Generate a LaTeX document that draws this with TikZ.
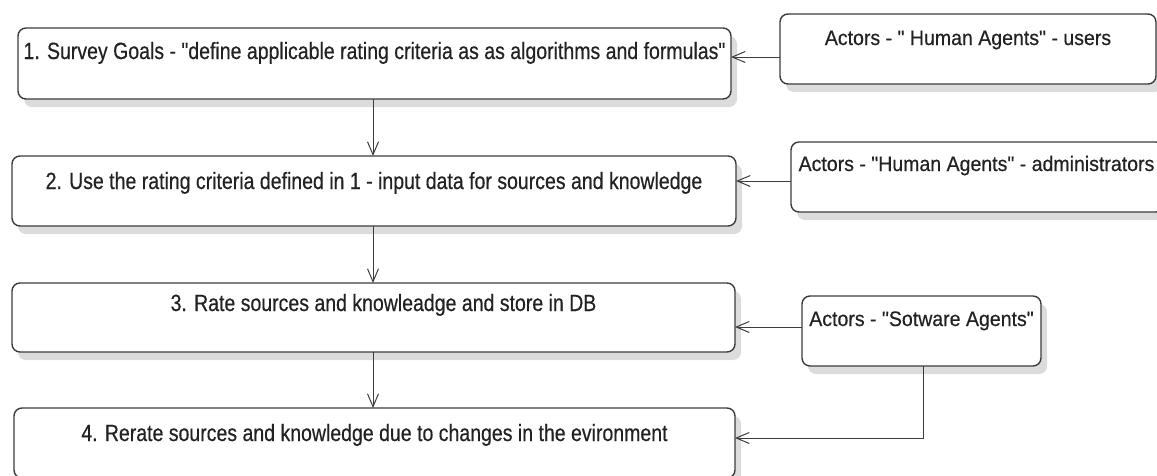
\documentclass[tikz,border=0pt]{standalone}
\usepackage{fontspec}
\setmainfont{Liberation Sans}
\newfontfamily\mainf{Liberation Sans}[FakeStretch=0.83,FakeBold=0.4]
\newfontfamily\actf{Liberation Sans}[FakeStretch=0.93,FakeBold=0.4]
\usetikzlibrary{arrows.meta}
\definecolor{edge}{HTML}{3C3C3C}
\definecolor{ink}{HTML}{222222}
\definecolor{shade}{HTML}{DCDCDC}
\begin{document}
\begin{tikzpicture}[x=1pt,y=-1pt,
  box/.style={draw=edge, line width=1.4pt, rounded corners=8pt, fill=white,
    inner sep=0pt, outer sep=0pt},
  shadowbox/.style={fill=shade, draw=none, rounded corners=8pt, inner sep=0pt, outer sep=0pt},
  mtext/.style={anchor=base, text=ink, font=\mainf\fontsize{23.5}{27}\selectfont, inner sep=0pt},
  atext/.style={anchor=base, text=ink, font=\actf\fontsize{21}{25}\selectfont, inner sep=0pt},
  conn/.style={draw=edge, line width=1pt, -{Straight Barb[length=13pt,width=11pt,line width=1pt]}}]
\useasboundingbox (0,0) rectangle (1157,475);
% shadows (drawn first, offset right and down)
\node[shadowbox, minimum width=713pt, minimum height=71pt] (h1) at (380.5,71.5) {};
\node[shadowbox, minimum width=724pt, minimum height=70pt] (h2) at (380,199) {};
\node[shadowbox, minimum width=723pt, minimum height=69pt] (h3) at (379.5,325.5) {};
\node[shadowbox, minimum width=721pt, minimum height=70pt] (h4) at (380.5,451) {};
\node[shadowbox, minimum width=376pt, minimum height=70pt] (g1) at (974,57) {};
\node[shadowbox, minimum width=373pt, minimum height=70pt] (g2) at (983.5,185) {};
\node[shadowbox, minimum width=239pt, minimum height=70pt] (g3) at (927.5,339) {};
% main boxes
\node[box, minimum width=713pt, minimum height=71pt] (b1) at (374.5,63.5) {};
\node[box, minimum width=724pt, minimum height=70pt] (b2) at (374,191) {};
\node[box, minimum width=723pt, minimum height=69pt] (b3) at (373.5,317.5) {};
\node[box, minimum width=721pt, minimum height=70pt] (b4) at (374.5,443) {};
% actor boxes
\node[box, minimum width=376pt, minimum height=70pt] (a1) at (968,49) {};
\node[box, minimum width=373pt, minimum height=70pt] (a2) at (977.5,177) {};
\node[box, minimum width=239pt, minimum height=70pt] (a3) at (921.5,331) {};
% texts
\node[mtext] (t1) at ([yshift=-31pt]b1.north) {1. Survey Goals - "define applicable rating criteria as as algorithms and formulas"};
\node[mtext] (t2) at ([yshift=-33pt]b2.north) {2. Use the rating criteria defined in 1 - input data for sources and knowledge};
\node[mtext] (t3) at ([xshift=10pt,yshift=-28pt]b3.north) {3. Rate sources and knowleadge and store in DB};
\node[mtext] (t4) at ([yshift=-33pt]b4.north) {4. Rerate sources and knowledge due to changes in the evironment};
\node[atext] (s1) at ([yshift=-31pt]a1.north) {Actors - " Human Agents" - users};
\node[atext] (s2) at ([xshift=-1pt,yshift=-29pt]a2.north) {Actors - "Human Agents" - administrators};
\node[atext] (s3) at ([yshift=-30pt]a3.north) {Actors - "Sotware Agents"};
% vertical connectors
\draw[conn] ([xshift=-1.5pt]b1.south) -- ([xshift=-1.5pt]b1.south |- b2.north);
\draw[conn] ([xshift=-1pt]b2.south) -- ([xshift=-1pt]b2.south |- b3.north);
\draw[conn] ([xshift=-0.5pt]b3.south) -- ([xshift=-0.5pt]b3.south |- b4.north);
% actor connectors
\draw[conn] ([yshift=-8pt]a1.west) coordinate (p1) -- (p1 -| b1.east);
\draw[conn] ([yshift=-4pt]a2.west) coordinate (p2) -- (p2 -| b2.east);
\draw[conn] ([yshift=4pt]a3.west) coordinate (p3) -- (p3 -| b3.east);
\draw[conn] ([xshift=1.5pt]a3.south) |- ([yshift=5pt]b4.east);
\end{tikzpicture}
\end{document}
